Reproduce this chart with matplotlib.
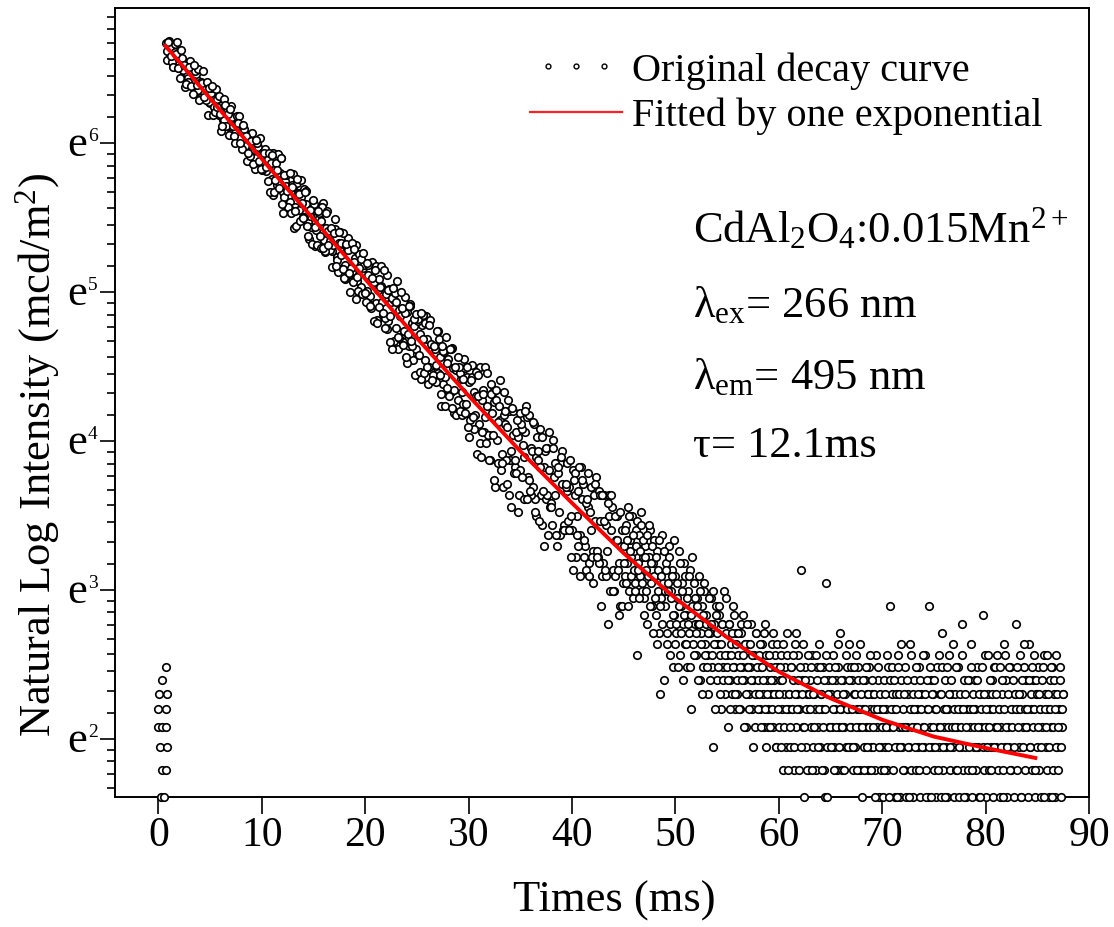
import numpy as np
import matplotlib.pyplot as plt
from matplotlib.lines import Line2D
from matplotlib.legend_handler import HandlerLine2D
from matplotlib.transforms import offset_copy

plt.rcParams['font.family'] = 'Liberation Serif'
plt.rcParams['mathtext.fontset'] = 'custom'
plt.rcParams['mathtext.rm'] = 'Liberation Serif'
plt.rcParams['mathtext.it'] = 'Liberation Serif:italic'
plt.rcParams['mathtext.bf'] = 'Liberation Serif:bold'

# background counts recorded before the pulse ends (ms, mcd/m2)
pre_t = [0.74, 0.39, 0.06, 0.8, 0.0, 0.7, 0.0, 0.35, 0.7, 0.17, 0.8, 0.35, 0.7, 0.27, 0.5]
pre_i = [12, 11, 10, 10, 9, 9, 8, 8, 8, 7, 7, 6, 6, 5, 5]

# decay part, four interleaved sample sets, each 0.25 ms apart
decay_dt = 0.25
decay_a_t0 = 0.75
decay_a = [790, 742, 768, 705, 735, 668, 700, 652, 640, 671, 601, 633,
           618, 570, 601, 545, 570, 528, 556, 510, 490, 531, 470, 498,
           488, 445, 470, 428, 452, 407, 431, 395, 385, 414, 372, 392,
           350, 384, 342, 365, 355, 318, 340, 305, 330, 290, 312, 281,
           272, 301, 262, 288, 282, 245, 268, 238, 230, 258, 225, 244,
           240, 210, 228, 201, 195, 222, 188, 207, 205, 178, 197, 168,
           170, 186, 160, 178, 175, 150, 166, 145, 160, 138, 151, 155,
           128, 147, 122, 139, 141, 117, 132, 110, 114, 130, 103, 121,
           118, 98, 112, 119, 94, 108, 88, 101, 101, 86, 96, 80,
           84, 95, 76, 89, 88, 72, 83, 70, 70, 81, 64, 76,
           74, 61, 72, 58, 69, 57, 66, 71, 55, 63, 50, 61,
           60, 48, 57, 46, 56, 45, 53, 58, 43, 52, 40, 49,
           48, 38, 46, 37, 45, 36, 43, 47, 34, 41, 31, 39,
           40, 30, 38, 33, 29, 37, 27, 35, 34, 26, 32, 25,
           32, 24, 31, 16, 30, 23, 28, 24, 27]
decay_b_t0 = 0.875
decay_b = [748, 771, 718, 742, 690, 712, 660, 689, 627, 655, 612, 640,
           575, 607, 560, 583, 531, 565, 515, 541, 489, 520, 471, 496,
           452, 480, 431, 462, 417, 441, 396, 425, 380, 405, 366, 392,
           351, 380, 335, 362, 352, 285, 354, 308, 365, 281, 302, 261,
           304, 228, 309, 257, 270, 296, 232, 248, 261, 202, 259, 216,
           270, 194, 224, 197, 204, 226, 170, 206, 173, 203, 213, 174,
           182, 142, 192, 154, 178, 150, 137, 182, 159, 123, 162, 139,
           125, 167, 126, 143, 148, 101, 126, 106, 129, 112, 137, 94,
           101, 122, 83, 108, 126, 90, 105, 82, 91, 108, 75, 99,
           92, 76, 102, 77, 66, 86, 76, 89, 84, 63, 91, 65,
           74, 54, 77, 64, 57, 80, 57, 72, 62, 45, 65, 48,
           67, 51, 44, 58, 38, 59, 49, 64, 42, 51, 37, 56,
           46, 31, 51, 38, 35, 55, 38, 44, 47, 30, 40, 32,
           33, 45, 25, 39, 46, 28, 36, 24, 30, 38, 26, 39,
           22, 32, 26, 33, 35, 22, 28, 18, 30]
decay_c_t0 = 0.8125
decay_c = [703, 801, 697, 784, 796, 627, 717, 589, 609, 700, 560, 653,
           664, 545, 655, 540, 489, 583, 486, 581, 554, 437, 541, 453,
           425, 519, 422, 485, 484, 389, 443, 357, 369, 432, 339, 404,
           418, 338, 387, 313, 290, 377, 315, 376, 365, 253, 326, 263,
           252, 327, 231, 287, 316, 246, 293, 212, 205, 269, 204, 253,
           262, 196, 256, 209, 176, 243, 184, 222, 221, 162, 197, 149,
           159, 203, 150, 185, 193, 139, 178, 133, 122, 177, 134, 177,
           172, 116, 152, 101, 107, 160, 109, 133, 144, 92, 135, 103,
           85, 124, 87, 127, 121, 80, 123, 85, 81, 114, 69, 100,
           110, 74, 101, 66, 65, 90, 65, 95, 90, 56, 84, 59,
           50, 90, 58, 90, 86, 48, 76, 40, 47, 82, 40, 67,
           72, 35, 67, 44, 34, 61, 37, 69, 65, 38, 61, 33,
           32, 56, 27, 52, 58, 31, 47, 27, 29, 51, 30, 47,
           48, 23, 44, 27, 22, 41, 23, 44, 40, 21, 43, 24,
           18, 38, 22, 38, 38, 20, 33, 17, 18]
decay_d_t0 = 0.9375
decay_d = [795, 726, 674, 732, 669, 752, 683, 602, 674, 591, 684, 598,
           538, 604, 551, 607, 583, 593, 496, 513, 492, 452, 521, 491,
           509, 453, 404, 462, 405, 456, 422, 377, 409, 350, 411, 359,
           340, 377, 344, 378, 372, 291, 338, 299, 268, 326, 293, 331,
           301, 256, 317, 240, 244, 291, 217, 258, 276, 230, 256, 200,
           200, 252, 204, 229, 220, 177, 222, 190, 163, 205, 169, 206,
           198, 164, 175, 147, 148, 181, 135, 163, 172, 121, 154, 129,
           117, 151, 106, 153, 139, 110, 149, 104, 96, 135, 107, 124,
           128, 97, 129, 86, 90, 119, 82, 103, 114, 85, 103, 69,
           78, 101, 68, 90, 96, 67, 83, 66, 60, 82, 64, 87,
           85, 49, 75, 54, 48, 75, 42, 77, 69, 47, 76, 41,
           38, 68, 48, 63, 66, 43, 67, 37, 39, 62, 34, 51,
           59, 39, 52, 29, 35, 52, 29, 46, 49, 30, 41, 30,
           25, 42, 29, 46, 42, 25, 37, 22, 25, 41, 25, 38,
           38, 23, 36, 20, 20, 33, 23, 34, 21]

# tail, integer counts, two interleaved sets sampled every 0.1 ms
tail_dt = 0.1
tail_a_t0 = 45.0
tail_a = [27, 22, 31, 24, 35, 20, 28, 25, 33, 19,
          26, 21, 30, 13, 24, 29, 22, 34, 20, 25,
          19, 27, 23, 16, 25, 30, 21, 18, 24, 28,
          22, 17, 26, 20, 15, 10, 19, 29, 21, 11,
          18, 24, 14, 21, 27, 16, 20, 23, 12, 17,
          22, 15, 19, 26, 13, 18, 21, 16, 24, 14,
          17, 12, 20, 15, 23, 9, 18, 14, 21, 16,
          13, 19, 16, 22, 11, 15, 18, 12, 20, 14,
          17, 13, 10, 15, 19, 12, 7, 16, 14, 18,
          11, 14, 17, 13, 9, 16, 12, 20, 10, 15,
          13, 8, 16, 11, 14, 10, 18, 12, 9, 15,
          10, 13, 9, 15, 12, 17, 11, 14, 8, 12,
          14, 10, 12, 16, 9, 11, 13, 8, 15, 10,
          11, 13, 9, 12, 14, 10, 8, 16, 7, 11,
          9, 12, 10, 14, 8, 11, 13, 7, 10, 12,
          8, 11, 13, 9, 6, 10, 12, 7, 15, 9,
          10, 7, 12, 9, 11, 6, 14, 8, 10, 13,
          9, 23, 11, 8, 5, 12, 7, 10, 6, 9,
          11, 8, 13, 7, 10, 9, 6, 12, 8, 14,
          7, 10, 9, 12, 6, 5, 21, 5, 11, 8,
          10, 8, 13, 7, 9, 11, 6, 12, 8, 15,
          9, 6, 11, 8, 10, 7, 12, 9, 14, 7,
          8, 11, 6, 10, 7, 13, 9, 12, 8, 6,
          5, 9, 7, 11, 8, 10, 6, 12, 9, 7,
          10, 7, 9, 6, 13, 8, 11, 5, 9, 7,
          8, 5, 11, 7, 9, 6, 12, 8, 18, 10,
          6, 9, 5, 10, 7, 13, 8, 5, 11, 7,
          9, 6, 12, 5, 8, 10, 7, 14, 6, 9,
          5, 11, 8, 6, 9, 7, 12, 5, 10, 8,
          7, 13, 6, 9, 5, 18, 8, 11, 7, 10,
          6, 9, 5, 12, 8, 7, 10, 5, 15, 6,
          8, 11, 7, 5, 9, 13, 6, 10, 7, 5,
          10, 6, 8, 12, 5, 9, 7, 16, 6, 11,
          7, 5, 9, 6, 11, 8, 14, 5, 10, 7,
          9, 6, 12, 7, 5, 10, 8, 17, 6, 13,
          5, 8, 10, 6, 9, 7, 11, 5, 12, 8,
          7, 13, 6, 9, 5, 8, 10, 6, 14, 7,
          11, 5, 8, 7, 12, 6, 9, 5, 10, 16,
          6, 9, 7, 13, 5, 10, 8, 12, 6, 11,
          8, 5, 14, 7, 9, 6, 11, 13, 5, 10,
          7, 12, 6, 9, 5, 8, 13, 10, 7, 6,
          9, 5, 11, 8, 12, 6, 10, 5, 13, 7,
          6, 9, 12, 5, 8, 10]
tail_b_t0 = 45.05
tail_b = [24, 30, 21, 28, 18, 33, 26, 22, 29, 23,
          20, 27, 32, 23, 19, 26, 31, 21, 28, 17,
          25, 20, 29, 22, 31, 18, 24, 27, 15, 22,
          19, 25, 14, 23, 28, 18, 22, 16, 26, 20,
          23, 15, 20, 25, 13, 19, 22, 17, 28, 14,
          16, 21, 12, 18, 24, 15, 20, 11, 17, 22,
          14, 19, 16, 22, 12, 17, 25, 13, 19, 15,
          18, 11, 16, 20, 14, 10, 17, 21, 13, 16,
          12, 15, 19, 11, 16, 13, 20, 14, 9, 17,
          15, 12, 18, 10, 14, 16, 11, 13, 19, 12,
          11, 16, 9, 13, 15, 12, 17, 10, 14, 11,
          15, 9, 12, 16, 11, 13, 8, 14, 10, 16,
          12, 9, 14, 11, 13, 7, 10, 15, 12, 9,
          10, 14, 8, 12, 11, 15, 9, 13, 10, 8,
          13, 8, 11, 9, 15, 10, 12, 7, 14, 9,
          10, 12, 7, 11, 14, 8, 9, 13, 6, 10,
          8, 12, 9, 13, 7, 10, 15, 9, 11, 6,
          12, 7, 10, 14, 8, 11, 9, 6, 13, 10,
          9, 12, 6, 10, 8, 13, 11, 7, 9, 12,
          10, 6, 8, 11, 9, 13, 7, 10, 12, 8,
          7, 11, 9, 6, 12, 8, 10, 14, 7, 9,
          11, 8, 10, 6, 13, 9, 7, 11, 8, 12,
          9, 7, 12, 10, 8, 6, 11, 9, 14, 10,
          8, 11, 6, 9, 12, 7, 10, 8, 13, 6,
          11, 8, 10, 5, 9, 12, 7, 10, 6, 8,
          9, 6, 10, 8, 13, 7, 5, 11, 9, 12,
          8, 11, 7, 9, 5, 12, 10, 7, 14, 8,
          6, 10, 8, 11, 7, 5, 9, 13, 8, 10,
          9, 7, 12, 8, 10, 6, 11, 9, 7, 13,
          8, 10, 5, 11, 9, 7, 12, 5, 10, 8,
          11, 7, 9, 6, 13, 8, 10, 12, 7, 9,
          5, 9, 12, 8, 10, 7, 11, 8, 14, 9,
          8, 12, 6, 9, 7, 10, 8, 13, 9, 5,
          10, 8, 11, 7, 9, 12, 6, 9, 8, 11,
          7, 11, 8, 10, 5, 9, 12, 7, 10, 8,
          9, 7, 13, 8, 11, 6, 10, 9, 7, 12,
          10, 8, 9, 12, 7, 11, 5, 9, 13, 8,
          7, 10, 12, 6, 9, 8, 11, 7, 10, 9,
          12, 8, 10, 9, 5, 11, 7, 14, 9, 8,
          9, 11, 7, 10, 12, 8, 9, 6, 11, 10,
          8, 10, 9, 7, 11, 12, 5, 9, 8, 13,
          10, 7, 9, 12, 5, 8, 11, 9, 7, 10,
          8, 11, 7, 9, 10]

# one-exponential fit
fit_t = [0.7, 5, 10, 15, 20, 25, 30, 35, 40, 45, 50, 55, 60, 65, 70, 75, 80, 84.8]
fit_i = [775, 545, 363, 242, 162, 109, 74, 51, 36, 25.7, 19.0, 14.6, 11.6, 9.7, 8.4, 7.5, 6.95, 6.5]

sets = [(pre_t, pre_i)]
for t0, vals, dt in [(decay_a_t0, decay_a, decay_dt), (decay_b_t0, decay_b, decay_dt),
                     (decay_c_t0, decay_c, decay_dt), (decay_d_t0, decay_d, decay_dt),
                     (tail_a_t0, tail_a, tail_dt), (tail_b_t0, tail_b, tail_dt)]:
    sets.append((t0 + dt * np.arange(len(vals)), vals))

W, H = 1114, 927
fig = plt.figure(figsize=(W / 100, H / 100), dpi=100)
ax = fig.add_axes([115 / W, 1 - 797 / H, (1089 - 115) / W, (797 - 8) / H])

pt_style = dict(ls='none', marker='o', ms=5.4, mfc='white', mec='black', mew=1.2,
                zorder=3, clip_on=False)
for tt, ii in sets:
    ax.plot(tt, ii, **pt_style)
ax.plot(fit_t, fit_i, color='#ff0000', lw=2.8, zorder=4)

ax.set_yscale('log', base=np.e)

ax.set_xticks(range(0, 91, 10))
ax.tick_params(axis='x', which='major', direction='out', length=12, width=1.2,
               labelsize=30, pad=2, top=False)
ax.tick_params(axis='x', which='minor', bottom=False)

ymin, ymax = 5, 1000
major = [np.e ** n for n in range(2, 7)]
minor = []
for n in range(1, 7):
    lo, hi = np.e ** n, np.e ** (n + 1)
    minor += [lo + k * (hi - lo) / 9 for k in range(1, 9)]
minor = [m for m in minor if ymin <= m <= ymax]
ax.set_yticks(major, [''] * len(major))
ax.set_yticks(minor, minor=True)
ax.yaxis.set_minor_formatter(plt.NullFormatter())
ax.tick_params(axis='y', which='major', direction='out', length=11, width=1.2, right=False)
ax.tick_params(axis='y', which='minor', direction='out', length=5.5, width=1.2, right=False)
ax.set_xlim(-4.2, 90)
ax.set_ylim(ymin, ymax)

# "e" tick labels with a small raised exponent
ytrans = ax.get_yaxis_transform()
e_trans = offset_copy(ytrans, fig=fig, x=0, y=-13, units='dots')
sup_trans = offset_copy(ytrans, fig=fig, x=0, y=2, units='dots')
for n, yv in zip(range(2, 7), major):
    ax.text((87 - 115) / 974, yv, 'e', transform=e_trans, fontsize=32,
            ha='right', va='baseline')
    ax.text((88 - 115) / 974, yv, str(n), transform=sup_trans, fontsize=14,
            ha='left', va='baseline')

for s in ax.spines.values():
    s.set_linewidth(1.4)

ax.set_xlabel('Times (ms)', fontsize=32, va='center')
ax.xaxis.set_label_coords((614 - 115) / 974, (797 - 901) / 789)
ax.set_ylabel('Natural Log Intensity (mcd/m$^2$)', fontsize=32, va='center')
ax.yaxis.set_label_coords((38 - 115) / 974, (797 - 455) / 789)

h_pts = Line2D([], [], ls='none', marker='o', ms=3.5, mfc='white', mec='black', mew=1.0)
h_fit = Line2D([], [], color='#ff2020', lw=1.6)
fig.legend([h_pts, h_fit], ['Original decay curve', 'Fitted by one exponential'],
           handler_map={h_pts: HandlerLine2D(numpoints=3, marker_pad=0.45),
                        h_fit: HandlerLine2D(numpoints=1)},
           loc='upper left', bbox_to_anchor=(530 / W, 1 - 52 / H), frameon=False,
           fontsize=29, handlelength=2.28, handletextpad=0.25,
           labelspacing=0.2, borderpad=0, borderaxespad=0)

info = ['CdAl$_2$O$_4$:0.015Mn$^{2+}$',
        r'$\mathrm{\lambda}_{\mathrm{ex}}$= 266 nm',
        r'$\mathrm{\lambda}_{\mathrm{em}}$= 495 nm',
        'τ= 12.1ms']
for txt, yb in zip(info, [242, 317, 389, 457]):
    fig.text(693 / W, 1 - yb / H, txt, fontsize=32, ha='left', va='baseline')

fig.savefig('out.png', dpi=100)
